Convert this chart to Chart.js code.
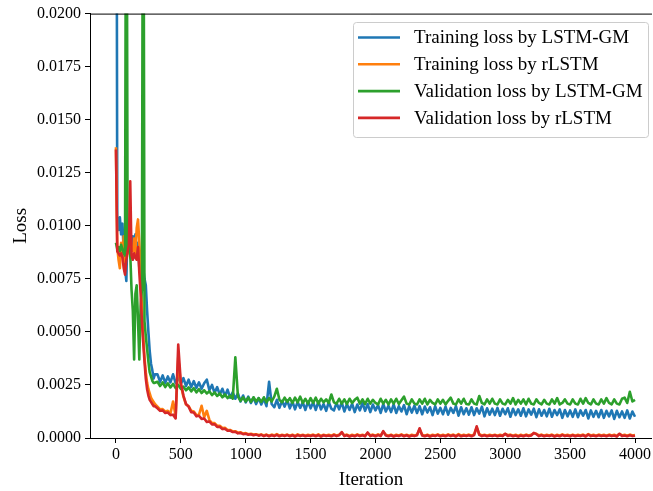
<!DOCTYPE html>
<html>
<head>
<meta charset="utf-8">
<script src="https://cdn.jsdelivr.net/npm/chart.js@4.4.1/dist/chart.umd.min.js"></script>
<style>
  html, body { margin: 0; padding: 0; background: #ffffff; overflow: hidden; }
  canvas { display: block; }
</style>
</head>
<body>
<canvas id="c" width="653" height="491"></canvas>
<script>
// ---------------- DATA ----------------
const seriesNames = [
  "Training loss by LSTM-GM",
  "Training loss by rLSTM",
  "Validation loss by LSTM-GM",
  "Validation loss by rLSTM"
];
const seriesColors = ["#1f77b4", "#ff7f0e", "#2ca02c", "#d62728"];

const xTickValues = [0, 500, 1000, 1500, 2000, 2500, 3000, 3500, 4000];
const yTickValues = [0, 0.0025, 0.005, 0.0075, 0.01, 0.0125, 0.015, 0.0175, 0.02];

// sampled iterations: every 10 up to 300, then every 20 up to 4000
const iterations = [];
for (let it = 0; it <= 300; it += 10) iterations.push(it);
for (let it = 320; it <= 4000; it += 20) iterations.push(it);

const trainLossGM = [
  // 0 - 300 (step 10)
  0.0450, 0.0103, 0.0098, 0.0104, 0.0096, 0.0101, 0.0088, 0.0080, 0.0074, 0.0103,
  0.0094, 0.0097, 0.0091, 0.0095, 0.0089, 0.0096, 0.0087, 0.0092, 0.0080, 0.0084,
  0.0078, 0.0080, 0.0075, 0.0072, 0.0060, 0.0050, 0.0041, 0.0035, 0.0032, 0.0028,
  0.0030,
  // 320 - 4000 (step 20)
  0.00300, 0.00265, 0.00295, 0.00260, 0.00290, 0.00262, 0.00300, 0.00258, 0.00288, 0.00255,
  0.00282, 0.00245, 0.00275, 0.00240, 0.00268, 0.00236, 0.00262, 0.00232, 0.00258, 0.00275,
  0.00225, 0.00250, 0.00212, 0.00240, 0.00205, 0.00232, 0.00198, 0.00228, 0.00190, 0.00215,
  0.00185, 0.00210, 0.00172, 0.00200, 0.00168, 0.00195, 0.00165, 0.00190, 0.00160, 0.00188,
  0.00158, 0.00185, 0.00150, 0.00265, 0.00160, 0.00145, 0.00180, 0.00142, 0.00175, 0.00148,
  0.00178, 0.00140, 0.00172, 0.00135, 0.00170, 0.00142, 0.00168, 0.00132, 0.00172, 0.00140,
  0.00168, 0.00132, 0.00172, 0.00135, 0.00160, 0.00128, 0.00170, 0.00138, 0.00130, 0.00165,
  0.00135, 0.00168, 0.00125, 0.00160, 0.00132, 0.00162, 0.00122, 0.00158, 0.00130, 0.00165,
  0.00128, 0.00160, 0.00122, 0.00158, 0.00130, 0.00155, 0.00118, 0.00160, 0.00125, 0.00152,
  0.00122, 0.00158, 0.00118, 0.00150, 0.00125, 0.00155, 0.00112, 0.00150, 0.00120, 0.00152,
  0.00118, 0.00150, 0.00112, 0.00148, 0.00120, 0.00145, 0.00108, 0.00150, 0.00115, 0.00142,
  0.00112, 0.00148, 0.00110, 0.00142, 0.00118, 0.00150, 0.00105, 0.00145, 0.00112, 0.00140,
  0.00110, 0.00145, 0.00108, 0.00140, 0.00115, 0.00148, 0.00102, 0.00140, 0.00110, 0.00138,
  0.00108, 0.00142, 0.00105, 0.00138, 0.00112, 0.00140, 0.00100, 0.00138, 0.00108, 0.00135,
  0.00105, 0.00140, 0.00102, 0.00135, 0.00110, 0.00138, 0.00098, 0.00135, 0.00105, 0.00132,
  0.00102, 0.00138, 0.00100, 0.00132, 0.00108, 0.00135, 0.00095, 0.00132, 0.00102, 0.00130,
  0.00100, 0.00135, 0.00098, 0.00130, 0.00105, 0.00132, 0.00092, 0.00130, 0.00100, 0.00128,
  0.00098, 0.00132, 0.00095, 0.00128, 0.00102, 0.00130, 0.00090, 0.00128, 0.00098, 0.00125,
  0.00095, 0.00130, 0.00092, 0.00125, 0.00100
];

const trainLossR = [
  0.0137, 0.0090, 0.0084, 0.0080, 0.0092, 0.0086, 0.0095, 0.0083, 0.0090, 0.0087,
  0.0093, 0.0085, 0.0090, 0.0088, 0.0094, 0.0087, 0.0099, 0.0103, 0.0092, 0.0080,
  0.0062, 0.0048, 0.0038, 0.0031, 0.0026, 0.0023, 0.0021, 0.0019, 0.0018, 0.0017,
  0.0016,
  0.00148, 0.00135, 0.00136, 0.00125, 0.00128, 0.00116, 0.00172, 0.00102, 0.00380, 0.00250,
  0.00195, 0.00158, 0.00150, 0.00128, 0.00125, 0.00108, 0.00110, 0.00152, 0.00098, 0.00128,
  0.00085, 0.00070, 0.00070, 0.00058, 0.00058, 0.00047, 0.00048, 0.00038, 0.00038, 0.00031,
  0.00032, 0.00025, 0.00027, 0.00021, 0.00023, 0.00018, 0.00020, 0.00016, 0.00018, 0.00014,
  0.00017, 0.00012, 0.00016, 0.00011, 0.00016, 0.00012, 0.00018, 0.00011, 0.00015, 0.00012,
  0.00016, 0.00011, 0.00016, 0.00010, 0.00017, 0.00012, 0.00015, 0.00011, 0.00015, 0.00012,
  0.00016, 0.00011, 0.00017, 0.00010, 0.00015, 0.00012, 0.00015, 0.00011, 0.00017, 0.00012,
  0.00015, 0.00025, 0.00012, 0.00016, 0.00010, 0.00015, 0.00011, 0.00017, 0.00012, 0.00015,
  0.00011, 0.00023, 0.00012, 0.00016, 0.00011, 0.00017, 0.00012, 0.00029, 0.00015, 0.00011,
  0.00016, 0.00010, 0.00015, 0.00012, 0.00017, 0.00011, 0.00015, 0.00010, 0.00015, 0.00012,
  0.00015, 0.00041, 0.00015, 0.00011, 0.00016, 0.00010, 0.00015, 0.00012, 0.00017, 0.00011,
  0.00015, 0.00011, 0.00017, 0.00012, 0.00016, 0.00010, 0.00018, 0.00011, 0.00015, 0.00012,
  0.00016, 0.00011, 0.00017, 0.00050, 0.00018, 0.00012, 0.00015, 0.00011, 0.00015, 0.00012,
  0.00015, 0.00011, 0.00015, 0.00012, 0.00019, 0.00013, 0.00016, 0.00011, 0.00015, 0.00010,
  0.00015, 0.00011, 0.00016, 0.00012, 0.00015, 0.00022, 0.00020, 0.00012, 0.00016, 0.00011,
  0.00015, 0.00012, 0.00016, 0.00010, 0.00015, 0.00011, 0.00017, 0.00012, 0.00015, 0.00011,
  0.00016, 0.00011, 0.00015, 0.00012, 0.00016, 0.00010, 0.00018, 0.00012, 0.00015, 0.00011,
  0.00016, 0.00012, 0.00015, 0.00011, 0.00016, 0.00012, 0.00015, 0.00010, 0.00019, 0.00012,
  0.00015, 0.00011, 0.00016, 0.00012, 0.00014
];

const valLossGM = [
  0.0092, 0.0089, 0.0090, 0.0088, 0.0091, 0.0089, 0.0087, 0.0086, 0.0350, 0.0088,
  0.0090, 0.0087, 0.0070, 0.0060, 0.0037, 0.0068, 0.0072, 0.0055, 0.0037, 0.0062,
  0.0070, 0.0350, 0.0055, 0.0048, 0.0042, 0.0036, 0.0031, 0.0029, 0.0027, 0.0026,
  0.0026,
  0.00265, 0.00245, 0.00262, 0.00240, 0.00258, 0.00238, 0.00255, 0.00235, 0.00250, 0.00232,
  0.00242, 0.00225, 0.00238, 0.00220, 0.00235, 0.00215, 0.00230, 0.00212, 0.00225, 0.00210,
  0.00220, 0.00202, 0.00215, 0.00198, 0.00210, 0.00192, 0.00205, 0.00188, 0.00200, 0.00185,
  0.00380, 0.00195, 0.00175, 0.00192, 0.00172, 0.00190, 0.00170, 0.00192, 0.00172, 0.00188,
  0.00170, 0.00192, 0.00168, 0.00188, 0.00172, 0.00195, 0.00232, 0.00180, 0.00168, 0.00190,
  0.00170, 0.00188, 0.00165, 0.00190, 0.00168, 0.00195, 0.00165, 0.00185, 0.00162, 0.00188,
  0.00165, 0.00190, 0.00162, 0.00185, 0.00168, 0.00182, 0.00165, 0.00205, 0.00168, 0.00162,
  0.00185, 0.00162, 0.00182, 0.00160, 0.00185, 0.00165, 0.00180, 0.00190, 0.00162, 0.00182,
  0.00160, 0.00185, 0.00162, 0.00180, 0.00165, 0.00158, 0.00185, 0.00162, 0.00180, 0.00158,
  0.00182, 0.00162, 0.00185, 0.00160, 0.00178, 0.00195, 0.00162, 0.00158, 0.00182, 0.00162,
  0.00158, 0.00182, 0.00162, 0.00185, 0.00158, 0.00180, 0.00165, 0.00158, 0.00182, 0.00162,
  0.00180, 0.00158, 0.00175, 0.00190, 0.00162, 0.00158, 0.00182, 0.00162, 0.00185, 0.00160,
  0.00158, 0.00182, 0.00162, 0.00158, 0.00198, 0.00165, 0.00158, 0.00182, 0.00162, 0.00185,
  0.00162, 0.00158, 0.00182, 0.00162, 0.00158, 0.00180, 0.00162, 0.00188, 0.00158, 0.00180,
  0.00162, 0.00182, 0.00158, 0.00185, 0.00162, 0.00158, 0.00182, 0.00165, 0.00158, 0.00180,
  0.00162, 0.00158, 0.00182, 0.00162, 0.00188, 0.00158, 0.00165, 0.00182, 0.00162, 0.00158,
  0.00182, 0.00162, 0.00158, 0.00185, 0.00162, 0.00188, 0.00165, 0.00158, 0.00182, 0.00162,
  0.00158, 0.00182, 0.00162, 0.00188, 0.00165, 0.00158, 0.00182, 0.00162, 0.00158, 0.00185,
  0.00190, 0.00165, 0.00218, 0.00172, 0.00180
];

const valLossR = [
  0.0136, 0.0088, 0.0087, 0.0086, 0.0087, 0.0085, 0.0080, 0.0077, 0.0084, 0.0088,
  0.0091, 0.0121, 0.0086, 0.0084, 0.0087, 0.0085, 0.0084, 0.0090, 0.0078, 0.0068,
  0.0055, 0.0045, 0.0036, 0.0028, 0.0023, 0.0020, 0.0018, 0.0017, 0.0016, 0.0015,
  0.0015,
  0.00140, 0.00128, 0.00130, 0.00118, 0.00120, 0.00108, 0.00110, 0.00092, 0.00440, 0.00260,
  0.00200, 0.00160, 0.00148, 0.00122, 0.00120, 0.00102, 0.00105, 0.00090, 0.00092, 0.00076,
  0.00078, 0.00064, 0.00065, 0.00052, 0.00053, 0.00042, 0.00044, 0.00034, 0.00035, 0.00028,
  0.00029, 0.00022, 0.00024, 0.00018, 0.00020, 0.00015, 0.00018, 0.00013, 0.00016, 0.00011,
  0.00015, 0.00009, 0.00014, 0.00008, 0.00013, 0.00009, 0.00015, 0.00008, 0.00013, 0.00009,
  0.00014, 0.00008, 0.00013, 0.00007, 0.00014, 0.00009, 0.00013, 0.00008, 0.00012, 0.00009,
  0.00013, 0.00008, 0.00014, 0.00007, 0.00013, 0.00009, 0.00012, 0.00008, 0.00014, 0.00009,
  0.00013, 0.00028, 0.00009, 0.00013, 0.00007, 0.00012, 0.00008, 0.00014, 0.00009, 0.00013,
  0.00008, 0.00026, 0.00009, 0.00013, 0.00008, 0.00014, 0.00009, 0.00032, 0.00012, 0.00008,
  0.00013, 0.00007, 0.00012, 0.00009, 0.00014, 0.00008, 0.00013, 0.00007, 0.00012, 0.00009,
  0.00013, 0.00046, 0.00012, 0.00008, 0.00013, 0.00007, 0.00012, 0.00009, 0.00014, 0.00008,
  0.00012, 0.00008, 0.00014, 0.00009, 0.00013, 0.00007, 0.00015, 0.00008, 0.00012, 0.00009,
  0.00013, 0.00008, 0.00014, 0.00055, 0.00015, 0.00009, 0.00013, 0.00008, 0.00012, 0.00009,
  0.00013, 0.00008, 0.00012, 0.00009, 0.00020, 0.00010, 0.00013, 0.00008, 0.00012, 0.00007,
  0.00012, 0.00008, 0.00013, 0.00009, 0.00012, 0.00024, 0.00018, 0.00009, 0.00013, 0.00008,
  0.00012, 0.00009, 0.00013, 0.00007, 0.00012, 0.00008, 0.00014, 0.00009, 0.00012, 0.00008,
  0.00013, 0.00008, 0.00012, 0.00009, 0.00013, 0.00007, 0.00016, 0.00009, 0.00012, 0.00008,
  0.00013, 0.00009, 0.00012, 0.00008, 0.00013, 0.00009, 0.00012, 0.00007, 0.00020, 0.00009,
  0.00012, 0.00008, 0.00013, 0.00009, 0.00011
];

const allSeries = [trainLossGM, trainLossR, valLossGM, valLossR];

// ---------------- CHART ----------------
Chart.defaults.font.family = "'Liberation Serif', 'Times New Roman', serif";
Chart.defaults.color = "#000000";

const datasets = allSeries.map((vals, k) => ({
  label: seriesNames[k],
  data: iterations.map((x, i) => ({ x: x, y: vals[i] })),
  borderColor: seriesColors[k],
  backgroundColor: seriesColors[k],
  borderWidth: 2.6,
  pointRadius: 0,
  tension: 0,
  fill: false,
  order: 4 - k,
  borderJoinStyle: 'round',
  borderCapStyle: 'butt'
}));

const frameLegend = {
  id: 'frameLegend',
  afterDraw(chart) {
    const ctx = chart.ctx;
    const a = chart.chartArea;
    ctx.save();
    // top spine
    ctx.strokeStyle = '#000000';
    ctx.lineWidth = 1;
    ctx.beginPath();
    ctx.moveTo(a.left, a.top + 0.5);
    ctx.lineTo(a.right, a.top + 0.5);
    ctx.stroke();

    // legend box
    const bx = 353, by = 22, bw = 295, bh = 115;
    ctx.beginPath();
    ctx.roundRect(bx + 0.5, by + 0.5, bw, bh, 3);
    ctx.fillStyle = 'rgba(255,255,255,0.8)';
    ctx.fill();
    ctx.strokeStyle = '#cccccc';
    ctx.lineWidth = 1;
    ctx.stroke();

    ctx.font = "19px 'Liberation Serif', 'Times New Roman', serif";
    ctx.textBaseline = 'middle';
    ctx.textAlign = 'left';
    for (let k = 0; k < seriesNames.length; k++) {
      const yy = 37.5 + k * 26.8;
      ctx.strokeStyle = seriesColors[k];
      ctx.lineWidth = 2.6;
      ctx.beginPath();
      ctx.moveTo(358, yy);
      ctx.lineTo(400, yy);
      ctx.stroke();
      ctx.fillStyle = '#000000';
      ctx.fillText(seriesNames[k], 414, yy + 1);
    }
    ctx.restore();
  }
};

new Chart(document.getElementById('c'), {
  type: 'line',
  data: { datasets: datasets },
  options: {
    responsive: false,
    animation: false,
    events: [],
    layout: { padding: { left: 10, top: 13, right: 0, bottom: 0 } },
    plugins: {
      legend: { display: false },
      tooltip: { enabled: false }
    },
    scales: {
      x: {
        type: 'linear',
        min: -200,
        max: 4131,
        afterBuildTicks: (s) => { s.ticks = xTickValues.map(v => ({ value: v })); },
        afterFit: (s) => { s.height = 53; },
        ticks: {
          font: { size: 16 },
          color: '#000000',
          padding: 2,
          maxRotation: 0,
          autoSkip: false,
          callback: (v) => String(v)
        },
        grid: {
          display: true,
          drawOnChartArea: false,
          drawTicks: true,
          tickLength: 5,
          tickColor: '#000000',
          tickWidth: 1
        },
        border: { display: true, color: '#000000', width: 1 },
        title: {
          display: true,
          text: 'Iteration',
          font: { size: 19 },
          color: '#000000',
          padding: 0
        }
      },
      y: {
        type: 'linear',
        min: 0,
        max: 0.02,
        afterBuildTicks: (s) => { s.ticks = yTickValues.map(v => ({ value: v })); },
        afterFit: (s) => { s.width = 80; },
        ticks: {
          font: { size: 16 },
          color: '#000000',
          padding: 4,
          autoSkip: false,
          callback: (v) => Number(v).toFixed(4)
        },
        grid: {
          display: true,
          drawOnChartArea: false,
          drawTicks: true,
          tickLength: 5,
          tickColor: '#000000',
          tickWidth: 1
        },
        border: { display: true, color: '#000000', width: 1 },
        title: {
          display: true,
          text: 'Loss',
          font: { size: 19 },
          color: '#000000',
          padding: 0
        }
      }
    }
  },
  plugins: [frameLegend]
});
</script>
</body>
</html>
